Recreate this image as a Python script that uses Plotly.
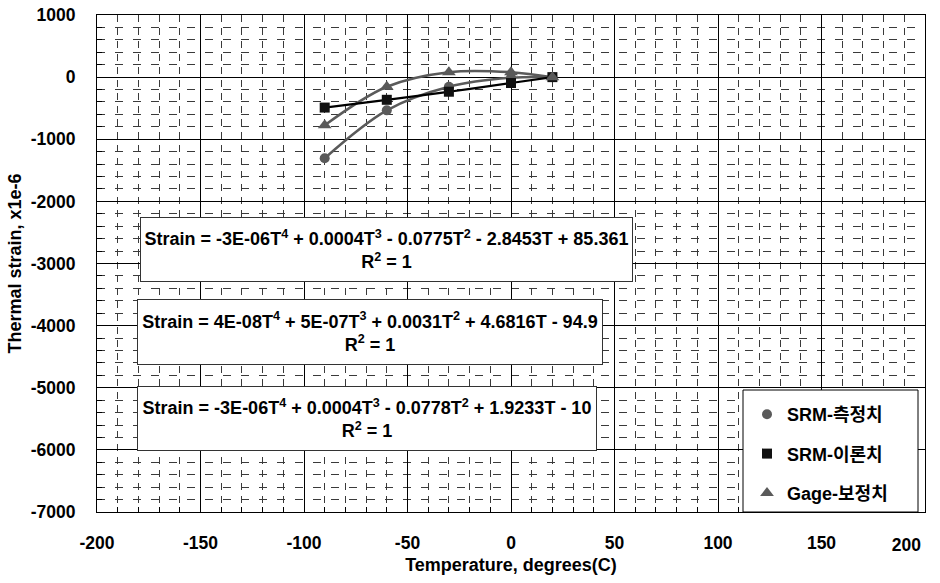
import plotly.graph_objects as go

# ---- data ----
temps = [-90, -60, -30, 0, 20]
srm_measured = [-1305, -535, -155, -10, 0]      # SRM-측정치 (circle)
srm_theory = [-490, -365, -235, -95, 0]          # SRM-이론치 (square)
gage_corrected = [-775, -155, 80, 80, 0]         # Gage-보정치 (triangle)

series_names = ["SRM-측정치", "SRM-이론치", "Gage-보정치"]
x_ticks = [-200, -150, -100, -50, 0, 50, 100, 150, 200]
x_tick_labels = ["-200", "-150", "-100", "-50", "0", "50", "100", "150", "200"]
y_ticks = [1000, 0, -1000, -2000, -3000, -4000, -5000, -6000, -7000]
y_tick_labels = ["1000", "0", "-1000", "-2000", "-3000", "-4000", "-5000", "-6000", "-7000"]

eq_texts = [
    "Strain = -3E-06T<sup>4</sup> + 0.0004T<sup>3</sup> - 0.0775T<sup>2</sup> - 2.8453T + 85.361<br>R<sup>2</sup> = 1",
    "Strain = 4E-08T<sup>4</sup> + 5E-07T<sup>3</sup> + 0.0031T<sup>2</sup> + 4.6816T - 94.9<br>R<sup>2</sup> = 1",
    "Strain = -3E-06T<sup>4</sup> + 0.0004T<sup>3</sup> - 0.0778T<sup>2</sup> + 1.9233T - 10<br>R<sup>2</sup> = 1",
]

FONT = "Arial, 'Liberation Sans', 'Noto Sans CJK KR', sans-serif"
GRAY = "#5a5a5a"
TICKFONT = dict(family=FONT, size=17.5, color="black", weight="bold")

fig = go.Figure()

# smooth trend curves through the points (no legend)
fig.add_trace(go.Scatter(x=temps, y=srm_measured, mode="lines", line=dict(color=GRAY, width=2.5, shape="spline", smoothing=1.0), showlegend=False, hoverinfo="skip"))
fig.add_trace(go.Scatter(x=temps, y=gage_corrected, mode="lines", line=dict(color=GRAY, width=2.5, shape="spline", smoothing=1.0), showlegend=False, hoverinfo="skip"))
fig.add_trace(go.Scatter(x=temps, y=srm_theory, mode="lines", line=dict(color="#000000", width=2.2, shape="spline", smoothing=1.0), showlegend=False, hoverinfo="skip"))

# markers
fig.add_trace(go.Scatter(x=temps, y=srm_measured, mode="markers", name=series_names[0], legendgroup="a",
                         marker=dict(symbol="circle", size=10, color=GRAY)))
fig.add_trace(go.Scatter(x=temps, y=srm_theory, mode="markers", name=series_names[1], legendgroup="b",
                         marker=dict(symbol="square", size=10, color="#111111")))
fig.add_trace(go.Scatter(x=temps, y=gage_corrected, mode="markers", name=series_names[2], legendgroup="c",
                         marker=dict(symbol="triangle-up", size=12, color=GRAY)))

# empty trace registering the helper axis that carries the last x tick label (kept inside the page)
fig.add_trace(go.Scatter(x=[], y=[], xaxis="x2", yaxis="y", showlegend=False, hoverinfo="skip"))

FW, FH = 940, 583
L, T, PW, PH = 97, 15, 828, 497

def px_x(px):
    return (px - L) / PW

def px_y(py):
    return (T + PH - py) / PH

boxes = [(140, 217, 493, 65), (137, 299, 466, 66), (137, 386, 460, 65)]
for txt, (bx, by, bw, bh) in zip(eq_texts, boxes):
    fig.add_annotation(
        x=px_x(bx), y=px_y(by), xref="paper", yref="paper",
        xanchor="left", yanchor="top", text=txt, showarrow=False,
        width=bw - 4, height=bh - 4, align="center", valign="middle",
        bgcolor="white", bordercolor="#333333", borderwidth=1, borderpad=1,
        font=dict(family=FONT, size=18, color="black", weight="bold"),
    )

# legend box
fig.add_shape(type="rect", xref="paper", yref="paper",
              x0=px_x(743), x1=px_x(918), y0=0, y1=px_y(390),
              line=dict(color="black", width=1), fillcolor="white", layer="above")

axis_common = dict(
    showline=True, linecolor="black", linewidth=1, mirror=True,
    showgrid=True, gridcolor="black", gridwidth=1, zeroline=False,
    ticks="inside", ticklen=6, tickcolor="black", automargin=False,
    ticklabeloverflow="allow", tickfont=TICKFONT,
)

fig.update_layout(
    xaxis=dict(
        range=[-200, 200], tickvals=x_ticks,
        ticktext=x_tick_labels[:-1] + [""],
        title=dict(text="Temperature, degrees(C)", font=dict(family=FONT, size=18, color="black", weight="bold"), standoff=6),
        minor=dict(dtick=10, showgrid=True, gridcolor="#3a3a3a", gridwidth=1, griddash="7px,6px", ticks="inside", ticklen=5, tickcolor="black"),
        ticklabelstandoff=15,
        **axis_common,
    ),
    xaxis2=dict(
        range=[-200, 200], overlaying="x", anchor="y", side="bottom",
        tickvals=x_ticks[-1:], ticktext=x_tick_labels[-1:],
        ticklabelposition="outside left", ticklabelstandoff=20, ticklabelshift=-4,
        showgrid=False, zeroline=False, showline=False, ticks="",
        automargin=False, tickfont=TICKFONT,
    ),
    yaxis=dict(
        range=[-7000, 1000], tickvals=y_ticks, ticktext=y_tick_labels,
        title=dict(text="Thermal strain, x1e-6", font=dict(family=FONT, size=18, color="black", weight="bold"), standoff=4),
        minor=dict(dtick=200, showgrid=True, gridcolor="#3a3a3a", gridwidth=1, griddash="8px,10px", ticks="inside", ticklen=5, tickcolor="black"),
        ticklabelstandoff=17,
        **axis_common,
    ),
    width=FW, height=FH,
    margin=dict(l=L, r=FW - L - PW, t=T, b=FH - T - PH),
    plot_bgcolor="white", paper_bgcolor="white",
    font=dict(family=FONT, color="black"),
    showlegend=True,
    legend=dict(
        x=px_x(747), y=px_y(396), xanchor="left", yanchor="top",
        bgcolor="rgba(0,0,0,0)", borderwidth=0,
        font=dict(family=FONT, size=18, color="black", weight="bold"),
        traceorder="grouped", tracegroupgap=13,
    ),
)

fig.write_html("out.html", config={"displayModeBar": False},
               post_script="document.body.style.margin='0px';document.body.style.overflow='hidden';")
